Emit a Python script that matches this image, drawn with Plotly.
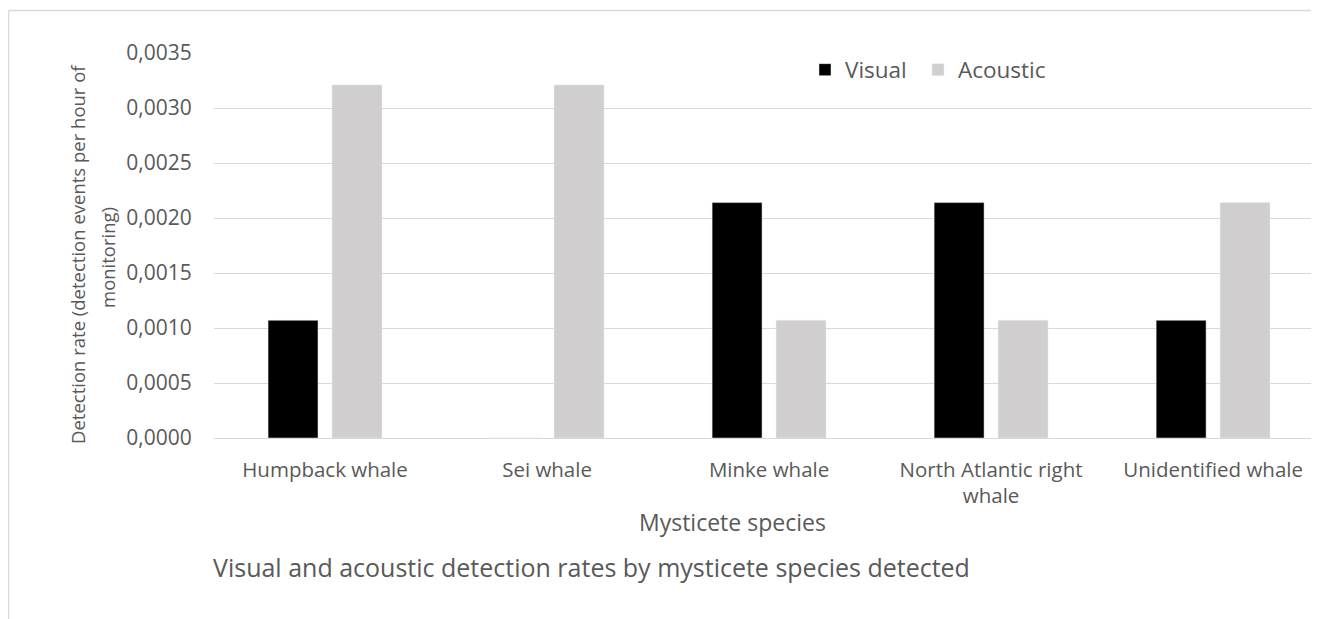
import plotly.graph_objects as go

categories = ["Humpback whale", "Sei whale", "Minke whale", "North Atlantic right<br>whale", "Unidentified whale"]
visual = [0.00107, 0.0, 0.00214, 0.00214, 0.00107]
acoustic = [0.00321, 0.00321, 0.00107, 0.00107, 0.00214]
y_ticks = [0, 0.0005, 0.001, 0.0015, 0.002, 0.0025, 0.003, 0.0035]

OFF = 8  # page body margin
W, H = 1311, 611
ml, mr, mt, mb = 206, 0, 45, 181
pw, ph = W - ml - mr, H - mt - mb

def fx(x):  # page x -> paper
    return (x - OFF - ml) / pw

def fy(y):  # page y -> paper
    return (H - mb - (y - OFF)) / ph

FONT = "Open Sans"
TXT = "#595959"
GRID = "#d9d9d9"

fig = go.Figure()
fig.add_bar(name="Visual", x=categories, y=visual, marker_color="#000000", legend="legend")
fig.add_bar(name="Acoustic", x=categories, y=acoustic, marker_color="#d0cece", legend="legend2")

leg_common = dict(orientation="h", xanchor="left", yanchor="middle", y=fy(70),
                  font=dict(family=FONT, size=22.5, color=TXT), bgcolor="rgba(0,0,0,0)",
                  borderwidth=0)
fig.update_layout(
    width=W, height=H,
    margin=dict(l=ml, r=mr, t=mt, b=mb, autoexpand=False),
    paper_bgcolor="white", plot_bgcolor="white",
    barmode="group", bargap=0.424, bargroupgap=0.219,
    separators=",.",
    font=dict(family=FONT, color=TXT, size=20),
    showlegend=True,
    legend=dict(x=fx(805), **leg_common),
    legend2=dict(x=fx(918), **leg_common),
)
fig.update_yaxes(range=[0, 0.0035], tickvals=y_ticks, tickformat=".4f",
                 showgrid=True, gridcolor=GRID, gridwidth=1.4,
                 zeroline=True, zerolinecolor=GRID, zerolinewidth=1.4,
                 showline=False, ticks="outside", ticklen=17, tickcolor="rgba(0,0,0,0)",
                 tickfont=dict(family=FONT, size=21, color=TXT), fixedrange=True)
fig.update_xaxes(range=[-0.5, 4.477], showline=False, showgrid=False, ticks="outside", ticklen=13,
                 tickcolor="rgba(0,0,0,0)", tickfont=dict(family=FONT, size=20.5, color=TXT),
                 tickangle=0, fixedrange=True)

fig.add_annotation(text="Detection rate (detection events per hour of",
                   xref="paper", yref="paper", x=fx(77), y=fy(254), textangle=-90,
                   showarrow=False, font=dict(family=FONT, size=18.5, color=TXT),
                   xanchor="center", yanchor="middle")
fig.add_annotation(text="monitoring)",
                   xref="paper", yref="paper", x=fx(107), y=fy(258), textangle=-90,
                   showarrow=False, font=dict(family=FONT, size=18.5, color=TXT),
                   xanchor="center", yanchor="middle")
fig.add_annotation(text="Mysticete species", xref="paper", yref="paper", x=fx(732), y=fy(522),
                   showarrow=False, font=dict(family=FONT, size=23, color=TXT),
                   xanchor="center", yanchor="middle")
fig.add_annotation(text="Visual and acoustic detection rates by mysticete species detected",
                   xref="paper", yref="paper", x=fx(211), y=fy(567),
                   showarrow=False, font=dict(family=FONT, size=25, color=TXT),
                   xanchor="left", yanchor="middle")

# outer frame (left and top edges visible)
fig.add_shape(type="line", xref="paper", yref="paper", x0=fx(8.5), x1=fx(1330), y0=fy(10.5), y1=fy(10.5),
              line=dict(color=GRID, width=1.5))
fig.add_shape(type="line", xref="paper", yref="paper", x0=fx(8.5), x1=fx(8.5), y0=fy(10.5), y1=fy(630),
              line=dict(color=GRID, width=1.5))

fig.write_html("out.html")
